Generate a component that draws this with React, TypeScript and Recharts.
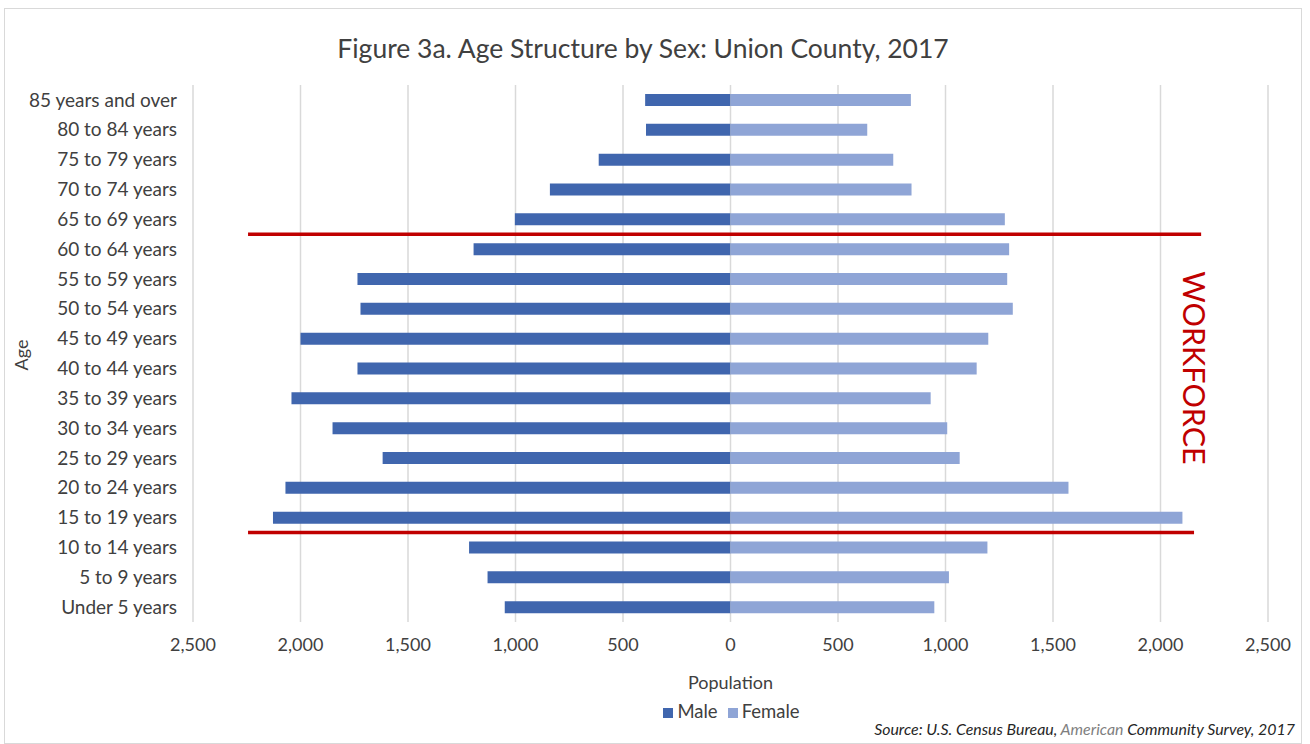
import {
  Bar,
  BarChart,
  CartesianGrid,
  Legend,
  ReferenceLine,
  XAxis,
  YAxis,
} from "recharts";

// age groups, top of the pyramid first
const ages = [
  "85 years and over",
  "80 to 84 years",
  "75 to 79 years",
  "70 to 74 years",
  "65 to 69 years",
  "60 to 64 years",
  "55 to 59 years",
  "50 to 54 years",
  "45 to 49 years",
  "40 to 44 years",
  "35 to 39 years",
  "30 to 34 years",
  "25 to 29 years",
  "20 to 24 years",
  "15 to 19 years",
  "10 to 14 years",
  "5 to 9 years",
  "Under 5 years",
];
const male = [397, 393, 613, 840, 1003, 1195, 1735, 1721, 2000, 1735, 2042, 1851, 1618, 2070, 2128, 1216, 1130, 1050];
const female = [839, 636, 757, 842, 1276, 1296, 1287, 1313, 1199, 1145, 931, 1008, 1066, 1572, 2102, 1195, 1016, 948];
const xTicks = [-2500, -2000, -1500, -1000, -500, 0, 500, 1000, 1500, 2000, 2500];

// workforce band: red line above the oldest and below the youngest working-age group
const workforceTop = { age: "60 to 64 years", edge: "start" as const, from: -2244, to: 2189 };
const workforceBottom = { age: "15 to 19 years", edge: "end" as const, from: -2244, to: 2156 };
const legendOrder = ["Male", "Female"];

const MALE = "#4066ae";
const FEMALE = "#8fa5d6";
const RED = "#c00000";
const TEXT = "#404040";
const FONT = "Lato, 'Noto Sans', sans-serif";

const data = ages.map((age, i) => ({ age, male: -male[i], female: female[i] }));

const fmt = (v: number) => Math.abs(v).toLocaleString("en-US");

export default function App() {
  return (
    <div style={{ position: "absolute", left: 0, top: 0, width: 1310, height: 744, background: "#fff", fontFamily: FONT, color: TEXT }}>
      <div style={{ position: "absolute", left: 4, top: 8, width: 1298, height: 736, border: "1px solid #d9d9d9", boxSizing: "border-box" }} />
      <div style={{ position: "absolute", left: 643, top: 32, transform: "translateX(-50%)", whiteSpace: "nowrap", fontSize: 26.5, lineHeight: "32px" }}>
        Figure 3a. Age Structure by Sex: Union County, 2017
      </div>
      <BarChart
        width={1310}
        height={744}
        data={data}
        layout="vertical"
        stackOffset="sign"
        margin={{ top: 85, right: 42, bottom: 50, left: 0 }}
        style={{ position: "absolute", left: 0, top: 0 }}
      >
        <CartesianGrid horizontal={false} stroke="#d9d9d9" strokeWidth={1.5} />
        <XAxis
          type="number"
          domain={[-2500, 2500]}
          ticks={xTicks}
          tickFormatter={fmt}
          axisLine={false}
          tickLine={false}
          tickMargin={10}
          height={72}
          tick={{ fill: TEXT, fontSize: 18, fontFamily: FONT }}
          label={{ value: "Population", position: "insideTop", offset: 54, fill: TEXT, fontSize: 18, fontFamily: FONT }}
        />
        <YAxis
          type="category"
          dataKey="age"
          width={193}
          axisLine={false}
          tickLine={false}
          tickMargin={10}
          interval={0}
          tick={{ fill: TEXT, fontSize: 19, fontFamily: FONT }}
        />
        <Bar dataKey="male" name="Male" stackId="a" fill={MALE} barSize={12} isAnimationActive={false} />
        <Bar dataKey="female" name="Female" stackId="a" fill={FEMALE} barSize={12} isAnimationActive={false} />
        <ReferenceLine
          position={workforceTop.edge}
          segment={[{ x: workforceTop.from, y: workforceTop.age }, { x: workforceTop.to, y: workforceTop.age }]}
          stroke={RED}
          strokeWidth={3.5}
        />
        <ReferenceLine
          position={workforceBottom.edge}
          segment={[{ x: workforceBottom.from, y: workforceBottom.age }, { x: workforceBottom.to, y: workforceBottom.age }]}
          stroke={RED}
          strokeWidth={3.5}
        />
        <Legend
          layout="horizontal"
          verticalAlign="middle"
          align="center"
          iconType="square"
          iconSize={10}
          itemSorter={(item: any) => legendOrder.indexOf(item.value)}
          wrapperStyle={{ top: 700, left: 199, width: 1075, fontSize: 18.5, fontFamily: FONT }}
          formatter={(v) => <span style={{ color: TEXT }}>{v}</span>}
        />
      </BarChart>
      <div style={{ position: "absolute", left: 21, top: 355, transform: "translate(-50%, -50%) rotate(-90deg)", fontSize: 18 }}>Age</div>
      <div style={{ position: "absolute", left: 1195, top: 368, transform: "translate(-50%, -50%)", writingMode: "vertical-rl", color: RED, fontSize: 30.5, lineHeight: 1 }}>
        WORKFORCE
      </div>
      <div style={{ position: "absolute", right: 15, top: 719, fontStyle: "italic", fontSize: 15.9, whiteSpace: "nowrap", color: "#262626" }}>
        Source: U.S. Census Bureau, <span style={{ color: "#7f7f7f" }}>American</span> Community Survey, 2017
      </div>
    </div>
  );
}
